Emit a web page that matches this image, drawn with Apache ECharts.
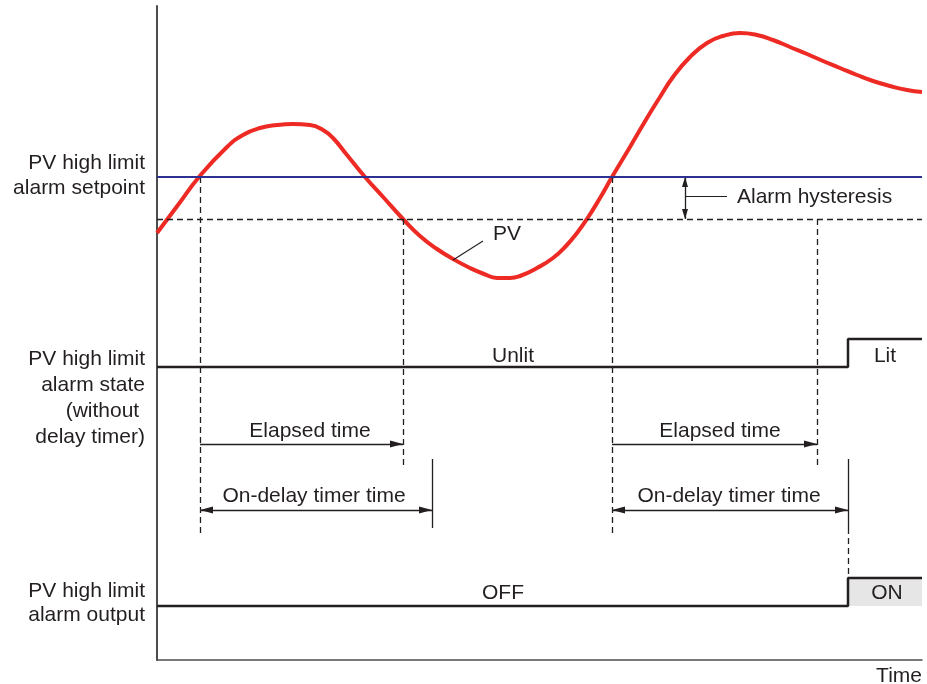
<!DOCTYPE html>
<html>
<head>
<meta charset="utf-8">
<script src="https://cdn.jsdelivr.net/npm/echarts@6/dist/echarts.min.js"></script>
<style>
html,body{margin:0;padding:0;background:#fff;}
#chart{width:927px;height:684px;}
</style>
</head>
<body>
<div id="chart"></div>
<script>
// ---- data (time units along x, process value units along y) ----
const pvTime = [0, 21, 42, 70, 86, 103, 120, 136, 153, 166, 176, 190, 208, 227, 246, 263, 280, 296, 313, 327, 340, 353, 363, 380, 396, 409, 420, 430, 443, 455, 473, 490, 503, 516, 533, 550, 566, 583, 600, 616, 633, 650, 666, 683, 700, 716, 733, 750, 765];
const pvValue = [427, 455, 483, 513, 525, 532, 535, 536, 535, 530, 522, 505, 483, 462, 441, 424, 411, 401, 392, 386, 382, 382, 384, 392, 402, 414, 427, 441, 462, 483, 513, 542, 563, 583, 603, 617, 624, 627, 625, 620, 613, 606, 599, 592, 585, 579, 574, 570, 568];
const setpoint = 483;
const hysteresisLevel = 441;
const riseTimes = [43, 455];        // PV rises above setpoint
const elapsedEnds = [246, 660];     // end of elapsed time
const delayEnds = [275, 691];       // end of on-delay timer time
const stateTime = [0, 691, 691, 765];
const stateLevel = [293, 293, 321, 321];   // Unlit -> Lit
const outputTime = [0, 691, 691, 765];
const outputLevel = [54, 54, 82, 82];      // OFF -> ON
const elapsedArrowLevel = 216;
const delayArrowLevel = 150;
const rowLabels = ['PV high limit\nalarm setpoint', 'PV high limit\nalarm state\n(without \ndelay timer)', 'PV high limit\nalarm output'];
const rowLabelLevels = [484, 261.5, 57];
const rowLineHeights = [25, 26, 24];
const noteTexts = ['Elapsed time', 'Elapsed time', 'On-delay timer time', 'On-delay timer time', 'Unlit', 'Lit', 'OFF', 'ON', 'PV'];
const noteTime = [153, 563, 157, 572, 356, 728, 346, 730, 350];
const noteLevel = [228.5, 228.5, 163.5, 163.5, 303.5, 303.5, 66.5, 66.5, 425.5];
const hysteresisArrowTime = 528;
const hysteresisLabel = 'Alarm hysteresis';
const axisName = 'Time';

// ---- chart ----
const ink = '#231f20';
const font = 'Liberation Sans, Arial, Helvetica, sans-serif';
const fs = 21;
const chart = echarts.init(document.getElementById('chart'), null, {renderer: 'canvas'});

const dashed = {color: ink, width: 1.3, type: [6, 4]};
const solidThin = {color: ink, width: 1.3, type: 'solid'};

function seg(x1, y1, x2, y2, lineStyle, symbols, size) {
  const s = size || [7, 13];
  return [
    {coord: [x1, y1], symbol: symbols ? symbols[0] : 'none', symbolSize: s, symbolOffset: [0, s[1] / 2], lineStyle: lineStyle},
    {coord: [x2, y2], symbol: symbols ? symbols[1] : 'none', symbolSize: s, symbolOffset: [0, s[1] / 2]}
  ];
}

const marks = [];
// vertical dashed lines from PV crossings
marks.push(seg(riseTimes[0], setpoint, riseTimes[0], delayArrowLevel - 27, dashed));
marks.push(seg(riseTimes[1], setpoint, riseTimes[1], delayArrowLevel - 27, dashed));
marks.push(seg(elapsedEnds[0], hysteresisLevel, elapsedEnds[0], elapsedArrowLevel - 23, dashed));
marks.push(seg(elapsedEnds[1], hysteresisLevel, elapsedEnds[1], elapsedArrowLevel - 23, dashed));
// delay end solid ticks
marks.push(seg(delayEnds[0], elapsedArrowLevel - 15, delayEnds[0], delayArrowLevel - 18, solidThin));
marks.push(seg(delayEnds[1], elapsedArrowLevel - 15, delayEnds[1], delayArrowLevel - 18, solidThin));
marks.push(seg(delayEnds[1], delayArrowLevel - 18, delayEnds[1], outputLevel[2], dashed));
// elapsed arrows
marks.push(seg(riseTimes[0], elapsedArrowLevel, elapsedEnds[0], elapsedArrowLevel, solidThin, ['none', 'triangle']));
marks.push(seg(riseTimes[1], elapsedArrowLevel, elapsedEnds[1], elapsedArrowLevel, solidThin, ['none', 'triangle']));
// on-delay arrows
marks.push(seg(riseTimes[0], delayArrowLevel, delayEnds[0], delayArrowLevel, solidThin, ['triangle', 'triangle']));
marks.push(seg(riseTimes[1], delayArrowLevel, delayEnds[1], delayArrowLevel, solidThin, ['triangle', 'triangle']));
// hysteresis arrow + leader
marks.push(seg(hysteresisArrowTime, setpoint, hysteresisArrowTime, hysteresisLevel, solidThin, ['triangle', 'triangle'], [6, 10]));
marks.push(seg(hysteresisArrowTime, (setpoint + hysteresisLevel) / 2 + 2, hysteresisArrowTime + 42, (setpoint + hysteresisLevel) / 2 + 2, {color: ink, width: 1.1}));
// PV leader
marks.push(seg(296, 400, 326, 419, {color: ink, width: 1.1}));

const labelBase = {show: true, color: ink, fontFamily: font, fontSize: fs, opacity: 1};

const option = {
  animation: false,
  backgroundColor: '#ffffff',
  grid: {left: 157, top: 6, width: 765, height: 654, containLabel: false, outerBoundsMode: 'none'},
  xAxis: {
    type: 'value', min: 0, max: 765,
    axisLine: {show: true, lineStyle: {color: '#4d4d4d', width: 1.5}},
    axisTick: {show: false}, axisLabel: {show: false}, splitLine: {show: false},
    name: axisName, nameLocation: 'end', nameGap: 0,
    nameTextStyle: {color: ink, fontFamily: font, fontSize: fs, align: 'right', verticalAlign: 'top', padding: [6, 0, 0, 0]}
  },
  yAxis: {
    type: 'value', min: 0, max: 654,
    axisLine: {show: true, lineStyle: {color: '#4d4d4d', width: 2}},
    axisTick: {show: false}, axisLabel: {show: false}, splitLine: {show: false}
  },
  series: [
    {
      type: 'line', name: 'annotations', data: [], silent: true,
      markArea: {
        silent: true,
        itemStyle: {color: '#e6e6e6'},
        data: [[{coord: [outputTime[1], outputLevel[0]]}, {coord: [outputTime[3], outputLevel[2]]}]]
      },
      markLine: {
        silent: true, symbol: 'none', animation: false,
        label: {show: false},
        emphasis: {disabled: true},
        lineStyle: {color: ink, width: 1.3, type: 'solid'},
        data: marks.concat([
          {yAxis: hysteresisLevel, lineStyle: dashed, symbol: 'none'},
          {yAxis: setpoint, lineStyle: {color: '#2e3192', width: 2.2, type: 'solid'}, symbol: 'none'}
        ])
      }
    },
    {
      type: 'line', name: 'Alarm state', silent: true, showSymbol: false,
      data: stateTime.map((t, i) => [t, stateLevel[i]]),
      lineStyle: {color: ink, width: 2.5}, z: 3
    },
    {
      type: 'line', name: 'Alarm output', silent: true, showSymbol: false,
      data: outputTime.map((t, i) => [t, outputLevel[i]]),
      lineStyle: {color: ink, width: 2.5}, z: 3
    },
    {
      type: 'line', name: 'PV', silent: true, showSymbol: false, smooth: 0.5,
      data: pvTime.map((t, i) => [t, pvValue[i]]),
      lineStyle: {color: '#ed2a24', width: 4}, z: 4
    },
    {
      type: 'scatter', name: 'rowLabels', silent: true, symbolSize: 0, itemStyle: {opacity: 1},
      data: rowLabels.map((s, i) => ({value: [0, rowLabelLevels[i]], label: {formatter: s, lineHeight: rowLineHeights[i]}})),
      label: Object.assign({}, labelBase, {position: 'left', distance: 12, align: 'right'})
    },
    {
      type: 'scatter', name: 'notes', silent: true, symbolSize: 0, itemStyle: {opacity: 1},
      data: noteTexts.map((s, i) => ({value: [noteTime[i], noteLevel[i]], label: {formatter: s}})),
      label: Object.assign({}, labelBase, {position: 'inside'})
    },
    {
      type: 'scatter', name: 'hyst', silent: true, symbolSize: 0, itemStyle: {opacity: 1},
      data: [{value: [hysteresisArrowTime + 42, (setpoint + hysteresisLevel) / 2 + 1], label: {formatter: hysteresisLabel}}],
      label: Object.assign({}, labelBase, {position: 'right', distance: 10})
    }
  ]
};
chart.setOption(option);
</script>
</body>
</html>
